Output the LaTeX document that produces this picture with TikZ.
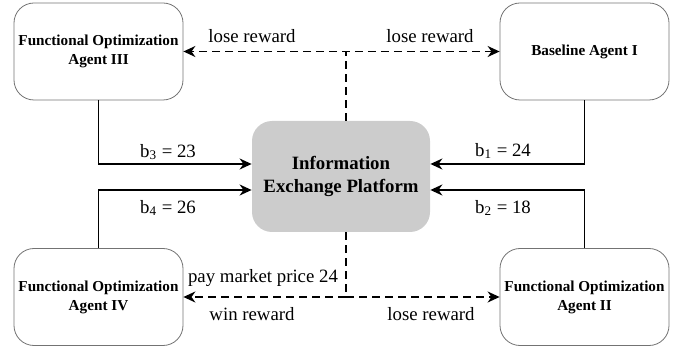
\documentclass[tikz,border=0pt]{standalone}
\usepackage{fontspec}
\setmainfont{Liberation Serif}
\usetikzlibrary{arrows.meta}
\begin{document}
\begin{tikzpicture}[x=0.5pt,y=-0.5pt,
  agent/.style={draw=black!55, line width=0.4pt, rounded corners=10pt,
    minimum width=84.5pt, minimum height=48.5pt, align=center, inner sep=1pt,
    font=\fontsize{7.6}{9.5}\selectfont\bfseries},
  platform/.style={fill=black!20, rounded corners=10pt, minimum width=89pt,
    minimum height=55.5pt, align=center, font=\fontsize{9.4}{11.5}\selectfont\bfseries},
  bid/.style={line width=0.8pt, -{Stealth[length=6pt,width=5.5pt]}},
  reward/.style={bid, dash pattern=on 4pt off 2.5pt},
  lbl/.style={font=\fontsize{9.4}{11}\selectfont, inner sep=0pt}]
\useasboundingbox (0,0) rectangle (685,352);

% Agents en platform
\node[agent] (a3) at (98.5,51.5) {Functional Optimization\\Agent III};
\node[agent] (a1) at (584.5,51.5) {Baseline Agent I};
\node[agent] (a4) at (98.5,297) {Functional Optimization\\Agent IV};
\node[agent] (a2) at (584.5,297) {Functional Optimization\\Agent II};
\node[platform] (info) at (341,176.5) {Information\\Exchange Platform};

% Biedingen
\draw[bid] (a3.south) |- ([yshift=6.25pt]info.west);
\draw[bid] (a1.south) |- ([yshift=6.25pt]info.east);
\draw[bid] (a4.north) |- ([yshift=-6.75pt]info.west);
\draw[bid] (a2.north) |- ([yshift=-6.75pt]info.east);
\node[lbl] (b3) at (168,152) {b\textsubscript{3} = 23};
\node[lbl] (b1) at (503,151) {b\textsubscript{1} = 24};
\node[lbl] (b4) at (168,208) {b\textsubscript{4} = 26};
\node[lbl] (b2) at (503,208) {b\textsubscript{2} = 18};

% Beloningen
\draw[reward] ([xshift=2.5pt]info.north) |- (a3.east);
\draw[reward] ([xshift=2.5pt]info.north) |- (a1.west);
\draw[reward] ([xshift=2.5pt]info.south) |- (a4.east);
\draw[reward] ([xshift=2.5pt]info.south) |- (a2.west);
\node[lbl] (r3) at (252,36) {lose reward};
\node[lbl] (r1) at (430,36) {lose reward};
\node[lbl] (pay) at (263,278) {pay market price 24};
\node[lbl] (r4) at (252,314) {win reward};
\node[lbl] (r2) at (431,314) {lose reward};
\end{tikzpicture}
\end{document}
